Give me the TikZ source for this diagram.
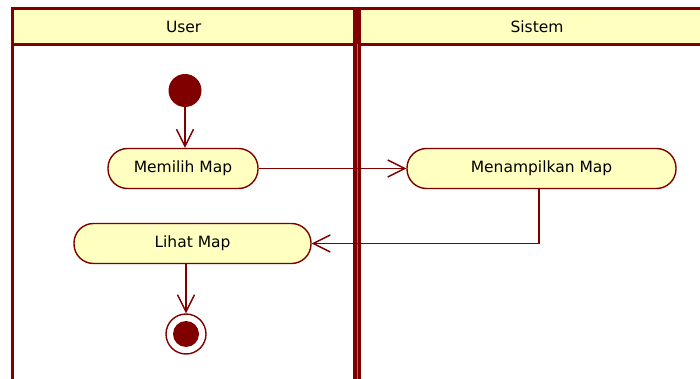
\documentclass[tikz,border=0pt]{standalone}
\usepackage{fontspec}
\setmainfont{DejaVu Sans}
\usetikzlibrary{arrows.meta}
\definecolor{dred}{RGB}{128,0,0}
\definecolor{lyel}{RGB}{255,255,192}
\definecolor{gapred}{RGB}{190,90,90}
\begin{document}
\begin{tikzpicture}[x=1pt,y=-1pt,
  lane/.style={draw=dred,line width=3.5pt},
  act/.style={draw=dred,fill=lyel,line width=1.4pt,rounded corners=19.5pt,minimum height=40pt,inner sep=0pt,font=\fontsize{15.5}{18}\selectfont},
  flow/.style={draw=dred,line width=1.4pt,-{Straight Barb[length=17pt,width=17pt,line width=1.4pt]}},
  hdr/.style={font=\fontsize{15.5}{18}\selectfont}]
\useasboundingbox (0,0) rectangle (700,379);
% swimlanes
\fill[lyel] (12.3,8.5) rectangle (720,44.5);
\draw[lane] (12.3,400) -- (12.3,8.5) -- (720,8.5);
\draw[lane] (12.3,44.5) -- (720,44.5);
\draw[lane] (355.2,8.5) -- (355.2,400);
\draw[lane] (358.8,8.5) -- (358.8,400);
\draw[gapred,line width=0.6pt] (357,44.5) -- (357,400);
\node[hdr] (huser) at (183.7,27) {User};
\node[hdr] (hsis) at (537,27) {Sistem};
% nodes
\node[circle,fill=dred,minimum size=33pt,inner sep=0pt] (init) at (185,90.5) {};
\node[act,minimum width=150pt] (memilih) at (183,168.5) {Memilih Map};
\node[act,minimum width=269pt] (menamp) at (541.5,168.5) {Menampilkan Map};
\node[act,minimum width=237pt] (lihat) at (192.5,243.5) {Lihat Map};
\node[circle,draw=dred,line width=1.4pt,fill=white,minimum size=40pt,inner sep=0pt] (final) at (186,334) {};
\node[circle,fill=dred,minimum size=26pt,inner sep=0pt] (finalin) at (final.center) {};
% flows
\draw[flow] (init.south) -- (init.south |- memilih.north);
\draw[flow] (memilih.east) -- (menamp.west);
\draw[flow] ([xshift=-2.5pt]menamp.south) |- (lihat.east);
\draw[flow] (final.north |- lihat.south) -- (final.north);
\end{tikzpicture}
\end{document}
